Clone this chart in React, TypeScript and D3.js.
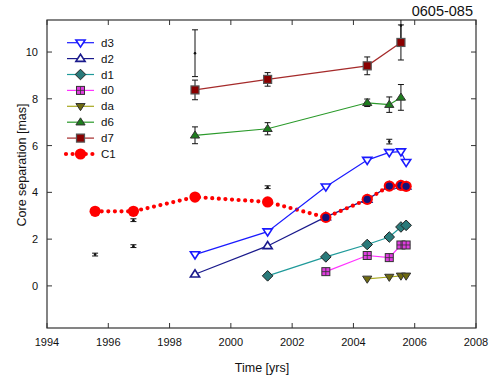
import React from "react";
import * as d3 from "d3";

const d3X = [1998.83, 2001.2, 2003.1, 2004.45, 2005.17, 2005.55, 2005.72];
const d3Y = [1.34, 2.32, 4.24, 5.38, 5.71, 5.74, 5.29];
const d2X = [1998.83, 2001.2, 2003.1, 2004.45, 2005.17, 2005.55, 2005.72];
const d2Y = [0.5, 1.71, 2.95, 3.7, 4.27, 4.3, 4.26];
const d1X = [2001.2, 2003.1, 2004.45, 2005.17, 2005.55, 2005.72];
const d1Y = [0.43, 1.24, 1.77, 2.09, 2.52, 2.59];
const d0X = [2003.1, 2004.45, 2005.17, 2005.55, 2005.72];
const d0Y = [0.61, 1.3, 1.21, 1.75, 1.75];
const daX = [2004.45, 2005.17, 2005.55, 2005.72];
const daY = [0.3, 0.38, 0.43, 0.43];
const d6X = [1998.83, 2001.2, 2004.45, 2005.17, 2005.55];
const d6Y = [6.44, 6.72, 7.83, 7.75, 8.06];
const d6E = [0.36, 0.26, 0.16, 0.33, 0.55];
const d7X = [1998.83, 2001.2, 2004.45, 2005.55];
const d7Y = [8.38, 8.83, 9.41, 10.41];
const d7E = [0.42, 0.29, 0.38, 0.75];
const c1X = [1995.57, 1996.82, 1998.83, 2001.2, 2003.1, 2004.45, 2005.17, 2005.55, 2005.72];
const c1Y = [3.19, 3.19, 3.8, 3.59, 2.93, 3.7, 4.27, 4.3, 4.26];
const c1Inner = [false, false, false, false, true, true, true, true, true];
const bX = [1995.57, 1996.82, 1996.82, 1998.83, 2001.2, 2005.17, 2005.55];
const bY = [1.34, 1.7, 2.81, 9.95, 4.22, 6.17, 11.13];
const bE = [0.06, 0.06, 0.06, 1.0, 0.06, 0.1, 0.8];

const xTicks = [1994, 1996, 1998, 2000, 2002, 2004, 2006, 2008];
const yTicks = [0, 2, 4, 6, 8, 10];
const legendNames = ["d3", "d2", "d1", "d0", "da", "d6", "d7", "C1"];

const W = 491, H = 378;
const L = 47, R = 476, T = 20, B = 328;
const FONT = "Liberation Sans, Arial, sans-serif";

const x = d3.scaleLinear().domain([1994, 2008]).range([L, R]);
const y = d3.scaleLinear().domain([-1.8, 11.37]).range([B, T]);

type Kind = "tdown" | "tup" | "diamond" | "grid" | "square" | "circle";

function Marker({ kind, cx, cy, fill, stroke, sw = 1 }: { kind: Kind; cx: number; cy: number; fill: string; stroke: string; sw?: number }) {
  if (kind === "tdown") {
    const s = 4.6;
    return <path d={`M${cx - s},${cy - s * 0.6} L${cx + s},${cy - s * 0.6} L${cx},${cy + s * 0.95} Z`} fill={fill} stroke={stroke} strokeWidth={sw} />;
  }
  if (kind === "tup") {
    const s = 4.6;
    return <path d={`M${cx - s},${cy + s * 0.6} L${cx + s},${cy + s * 0.6} L${cx},${cy - s * 0.95} Z`} fill={fill} stroke={stroke} strokeWidth={sw} />;
  }
  if (kind === "diamond") {
    const s = 5.3;
    return <path d={`M${cx},${cy - s} L${cx + s},${cy} L${cx},${cy + s} L${cx - s},${cy} Z`} fill={fill} stroke={stroke} strokeWidth={sw} />;
  }
  if (kind === "grid") {
    const s = 4;
    return (
      <g>
        <rect x={cx - s} y={cy - s} width={2 * s} height={2 * s} fill={fill} stroke={stroke} strokeWidth={sw} />
        <line x1={cx} x2={cx} y1={cy - s} y2={cy + s} stroke={stroke} strokeWidth={0.8} />
        <line x1={cx - s} x2={cx + s} y1={cy} y2={cy} stroke={stroke} strokeWidth={0.8} />
      </g>
    );
  }
  if (kind === "square") {
    const s = 4;
    return <rect x={cx - s} y={cy - s} width={2 * s} height={2 * s} fill={fill} stroke={stroke} strokeWidth={sw} />;
  }
  return <circle cx={cx} cy={cy} r={5.5} fill={fill} stroke={stroke} strokeWidth={sw} />;
}

function ErrBar({ cx, cy, e }: { cx: number; cy: number; e: number }) {
  const yt = Math.max(y(cy + e), T);
  const yb = y(cy - e);
  const px = x(cx);
  return (
    <g stroke="#111" strokeWidth={1}>
      <line x1={px} x2={px} y1={yt} y2={yb} />
      {y(cy + e) >= T && <line x1={px - 3} x2={px + 3} y1={yt} y2={yt} />}
      <line x1={px - 3} x2={px + 3} y1={yb} y2={yb} />
    </g>
  );
}

const line = d3.line<[number, number]>().x((d) => x(d[0])).y((d) => y(d[1]));
const zip = (a: number[], b: number[]) => a.map((v, i) => [v, b[i]] as [number, number]);

const series = [
  { name: "d3", X: d3X, Y: d3Y, color: "#1a1aff", kind: "tdown" as Kind, fill: "#fff", mstroke: "#1a1aff", sw: 1.6 },
  { name: "d2", X: d2X, Y: d2Y, color: "#1a1a8c", kind: "tup" as Kind, fill: "#fff", mstroke: "#1a1a8c", sw: 1.6 },
  { name: "d1", X: d1X, Y: d1Y, color: "#1f9a9a", kind: "diamond" as Kind, fill: "#2a7a7a", mstroke: "#222", sw: 1 },
  { name: "d0", X: d0X, Y: d0Y, color: "#ff33ff", kind: "grid" as Kind, fill: "#e03ce0", mstroke: "#333", sw: 1 },
  { name: "da", X: daX, Y: daY, color: "#a8a820", kind: "tdown" as Kind, fill: "#6e6a10", mstroke: "#333", sw: 1 },
  { name: "d6", X: d6X, Y: d6Y, color: "#2a9a2a", kind: "tup" as Kind, fill: "#1e7e1e", mstroke: "#333", sw: 1 },
  { name: "d7", X: d7X, Y: d7Y, color: "#a52a2a", kind: "square" as Kind, fill: "#8b0000", mstroke: "#555", sw: 1.2 },
];

export default function App() {
  const c1Pts = zip(c1X, c1Y);
  const d2s = series[1];
  const others = series.filter((s) => s.name !== "d2");
  return (
    <svg width={W} height={H} style={{ position: "absolute", left: 0, top: 0, background: "#fff" }} fontFamily={FONT}>
      <rect x={0} y={0} width={W} height={H} fill="#fff" />
      <defs>
        <clipPath id="plot">
          <rect x={L} y={T} width={R - L} height={B - T} />
        </clipPath>
      </defs>
      <rect x={L} y={T} width={R - L} height={B - T} fill="none" stroke="#333" strokeWidth={1.2} />
      {xTicks.map((t) => (
        <g key={"x" + t}>
          <line x1={x(t)} x2={x(t)} y1={B} y2={B - 5} stroke="#333" />
          <line x1={x(t)} x2={x(t)} y1={T} y2={T + 5} stroke="#333" />
          <text x={x(t)} y={346} textAnchor="middle" fontSize={11} fill="#111">{t}</text>
        </g>
      ))}
      {yTicks.map((t) => (
        <g key={"y" + t}>
          <line x1={L} x2={L + 5} y1={y(t)} y2={y(t)} stroke="#333" />
          <line x1={R} x2={R - 5} y1={y(t)} y2={y(t)} stroke="#333" />
          <text x={38} y={y(t) + 4} textAnchor="end" fontSize={11} fill="#111">{t}</text>
        </g>
      ))}
      <text x={262} y={372} textAnchor="middle" fontSize={12.5} fill="#111">Time [yrs]</text>
      <text transform="translate(26,165) rotate(-90)" textAnchor="middle" fontSize={12.5} fill="#111">Core separation [mas]</text>
      <text x={473} y={16} textAnchor="end" fontSize={14.5} fill="#111">0605-085</text>

      <g clipPath="url(#plot)">
        <path d={line(zip(d2X, d2Y)) || ""} fill="none" stroke={d2s.color} strokeWidth={1.2} />
        {d2X.map((v, i) => (
          <Marker key={"d2" + i} kind="tup" cx={x(v)} cy={y(d2Y[i])} fill={d2s.fill} stroke={d2s.mstroke} sw={d2s.sw} />
        ))}
        <path d={line(c1Pts) || ""} fill="none" stroke="#ff0000" strokeWidth={4.2} strokeLinecap="round" strokeDasharray="0 6.6" />
        {c1Pts.map((p, i) => (
          <g key={"c" + i}>
            <circle cx={x(p[0])} cy={y(p[1])} r={5.6} fill="#ff0000" />
            {c1Inner[i] && <circle cx={x(p[0])} cy={y(p[1])} r={3.6} fill="#12127a" />}
          </g>
        ))}
        {others.map((s) => (
          <path key={"l" + s.name} d={line(zip(s.X, s.Y)) || ""} fill="none" stroke={s.color} strokeWidth={1.2} />
        ))}
        {d6X.map((v, i) => <ErrBar key={"e6" + i} cx={v} cy={d6Y[i]} e={d6E[i]} />)}
        {d7X.map((v, i) => <ErrBar key={"e7" + i} cx={v} cy={d7Y[i]} e={d7E[i]} />)}
        {bX.map((v, i) => (
          <g key={"b" + i}>
            <ErrBar cx={v} cy={bY[i]} e={bE[i]} />
            <circle cx={x(v)} cy={y(bY[i])} r={1.3} fill="#111" />
          </g>
        ))}
        {others.map((s) =>
          s.X.map((v, i) => (
            <Marker key={s.name + i} kind={s.kind} cx={x(v)} cy={y(s.Y[i])} fill={s.fill} stroke={s.mstroke} sw={s.sw} />
          ))
        )}
      </g>

      {legendNames.map((n, i) => {
        const ly = 42.7 + i * 15.9;
        const s = series.find((q) => q.name === n);
        return (
          <g key={"lg" + n}>
            {s ? (
              <>
                <line x1={67} x2={94} y1={ly} y2={ly} stroke={s.color} strokeWidth={1.2} />
                <Marker kind={s.kind} cx={80.5} cy={ly} fill={s.fill} stroke={s.mstroke} sw={s.sw} />
              </>
            ) : (
              <>
                <line x1={66} x2={94} y1={ly} y2={ly} stroke="#ff0000" strokeWidth={4.2} strokeLinecap="round" strokeDasharray="0 6.6" />
                <circle cx={80.5} cy={ly} r={5.6} fill="#ff0000" />
              </>
            )}
            <text x={101} y={ly + 4} fontSize={11.5} fill="#111">{n}</text>
          </g>
        );
      })}
    </svg>
  );
}
